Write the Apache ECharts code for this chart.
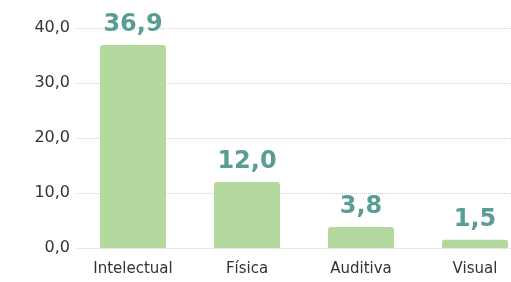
<!DOCTYPE html>
<html>
<head>
<meta charset="utf-8">
<script src="https://cdn.jsdelivr.net/npm/echarts@6/dist/echarts.min.js"></script>
<style>
  html, body { margin: 0; padding: 0; background: #fff; }
  #main { width: 511px; height: 282px; }
</style>
</head>
<body>
<div id="main"></div>
<script>
const categories = ['Intelectual', 'Física', 'Auditiva', 'Visual'];
const values = [36.9, 12.0, 3.8, 1.5];
const yTicks = [0, 10, 20, 30, 40];

const fmt = (v) => v.toFixed(1).replace('.', ',');

const chart = echarts.init(document.getElementById('main'));

chart.setOption({
  animation: false,
  grid: { left: 76, top: 28, right: -21, bottom: 34, outerBoundsMode: 'none', containLabel: false },
  xAxis: {
    type: 'category',
    data: categories,
    axisLine: { show: false },
    axisTick: { show: false },
    axisLabel: {
      color: '#333',
      fontFamily: 'DejaVu Sans',
      fontSize: 15,
      margin: 14
    }
  },
  yAxis: {
    type: 'value',
    min: yTicks[0],
    max: yTicks[yTicks.length - 1],
    interval: 10,
    axisLine: { show: false },
    axisTick: { show: false },
    splitLine: { lineStyle: { color: '#d2d2d2', type: 'dotted', width: 1 } },
    axisLabel: {
      color: '#333',
      fontFamily: 'DejaVu Sans',
      fontSize: 16,
      margin: 6,
      formatter: fmt
    }
  },
  series: [{
    type: 'bar',
    data: values,
    barWidth: 66,
    itemStyle: { color: '#b3d99f', borderRadius: [3, 3, 0, 0] },
    label: {
      show: true,
      position: 'top',
      distance: 8,
      color: '#5a9d94',
      fontFamily: 'DejaVu Sans',
      fontWeight: 'bold',
      fontSize: 24,
      formatter: (p) => fmt(p.value)
    }
  }]
});
</script>
</body>
</html>
